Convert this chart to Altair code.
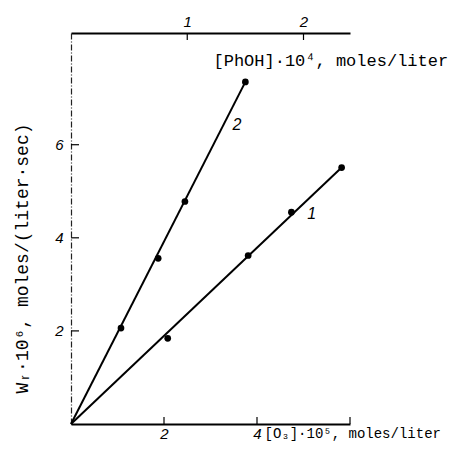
import altair as alt
import pandas as pd

# Curve 1: W_r vs [O3]*10^5 (bottom axis)
o3_x = [2.08, 3.81, 4.74, 5.82]
o3_w = [1.84, 3.62, 4.55, 5.51]
o3_line_x = [0.0, 5.82]
o3_line_w = [0.0, 5.51]

# Curve 2: W_r vs [PhOH]*10^4 (top axis)
ph_x = [0.43, 0.75, 0.98, 1.50]
ph_w = [2.06, 3.56, 4.78, 7.35]
ph_line_x = [0.0, 1.50]
ph_line_w = [0.0, 7.35]

bottom_ticks = [2, 4, 6]
bottom_labels = [2, 4]
top_ticks = [1, 2]
left_ticks = [2, 4, 6]

curve_labels_o3 = {"x": [5.08], "w": [4.52], "t": ["1"]}
curve_labels_ph = {"p": [1.39], "w": [6.43], "t": ["2"]}

W, H = 279, 391

yenc = alt.Y("w:Q", scale=alt.Scale(domain=[0, 8.4], nice=False, zero=False),
             axis=alt.Axis(values=left_ticks, ticks=False, grid=False,
                           domainColor="#222", domainWidth=1.2, domainDash=[6, 2, 1, 2],
                           labelFont="Liberation Sans", labelFontStyle="italic",
                           labelFontSize=15, labelColor="black", labelPadding=8,
                           title="Wᵣ·10⁶, moles/(liter·sec)", titleFont="Liberation Mono",
                           titleFontSize=18, titleFontWeight="normal", titleColor="black",
                           titleX=-49, titleY=225, titleAngle=-90, titleAlign="center",
                           titleBaseline="middle"))

xenc = alt.X("x:Q", scale=alt.Scale(domain=[0, 6], nice=False, zero=False),
             axis=alt.Axis(orient="bottom", values=bottom_labels, ticks=False, grid=False,
                           domainColor="black", domainWidth=2,
                           labelFont="Liberation Sans", labelFontStyle="italic",
                           labelFontSize=15, labelColor="black", labelPadding=2,
                           title="[O₃]·10⁵, moles/liter", titleFont="Liberation Mono",
                           titleFontSize=14, titleFontWeight="normal", titleColor="black",
                           titleX=193, titleY=9, titleAlign="left", titleBaseline="middle"))

penc = alt.X("p:Q", scale=alt.Scale(domain=[0, 2.4], nice=False, zero=False),
             axis=alt.Axis(orient="top", values=top_ticks, ticks=False, grid=False,
                           domainColor="black", domainWidth=2,
                           labelFont="Liberation Sans", labelFontStyle="italic",
                           labelFontSize=15, labelColor="black", labelPadding=4,
                           title="[PhOH]·10⁴, moles/liter", titleFont="Liberation Mono",
                           titleFontSize=17, titleFontWeight="normal", titleColor="black",
                           titleX=142, titleY=27, titleAlign="left", titleBaseline="middle"))

o3_pts = pd.DataFrame({"x": o3_x, "w": o3_w})
o3_line = pd.DataFrame({"x": o3_line_x, "w": o3_line_w})
ph_pts = pd.DataFrame({"p": ph_x, "w": ph_w})
ph_line = pd.DataFrame({"p": ph_line_x, "w": ph_line_w})

l1 = alt.Chart(o3_line).mark_line(color="black", strokeWidth=2).encode(x=xenc, y=yenc)
p1 = alt.Chart(o3_pts).mark_circle(color="black", size=45, opacity=1).encode(x=xenc, y=yenc)
bt = alt.Chart(pd.DataFrame({"x": bottom_ticks})).mark_rule(color="black", strokeWidth=1.2).encode(
    x=xenc, y=alt.value(H), y2=alt.value(H - 7))
lt = alt.Chart(pd.DataFrame({"w": left_ticks})).mark_rule(color="black", strokeWidth=1.2).encode(
    y=yenc, x=alt.value(0), x2=alt.value(8))
t1 = alt.Chart(pd.DataFrame(curve_labels_o3)).mark_text(
    font="Liberation Sans", fontStyle="italic", fontSize=16, color="black", align="left",
    baseline="middle").encode(x=xenc, y=yenc, text="t:N")

bottom_group = alt.layer(l1, p1, bt, lt, t1)

l2 = alt.Chart(ph_line).mark_line(color="black", strokeWidth=2).encode(x=penc, y=yenc)
p2 = alt.Chart(ph_pts).mark_circle(color="black", size=45, opacity=1).encode(x=penc, y=yenc)
tt = alt.Chart(pd.DataFrame({"p": top_ticks})).mark_rule(color="black", strokeWidth=1.2).encode(
    x=penc, y=alt.value(0), y2=alt.value(7))
t2 = alt.Chart(pd.DataFrame(curve_labels_ph)).mark_text(
    font="Liberation Sans", fontStyle="italic", fontSize=16, color="black", align="left",
    baseline="middle").encode(x=penc, y=yenc, text="t:N")

top_group = alt.layer(l2, p2, tt, t2)

chart = alt.layer(bottom_group, top_group).resolve_scale(x="independent").properties(
    width=W, height=H, autosize=alt.AutoSizeParams(type="none"),
    padding={"left": 63, "top": 25, "right": 102, "bottom": 18},
    background="white",
).configure_view(stroke=None)

chart.save("out.html", embed_options={"renderer": "svg", "actions": False})
